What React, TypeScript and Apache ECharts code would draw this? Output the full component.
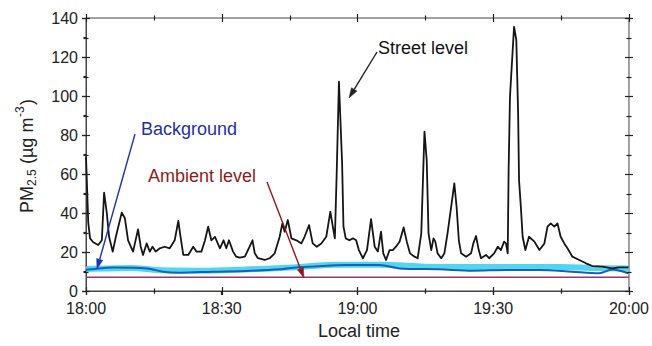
import React, { useEffect, useRef } from "react";
import * as echarts from "echarts";

// time in minutes after 18:00, PM2.5 value (µg m-3)
const streetLevel: [number, number][] = [
  [0, 68.9], [0.5, 35], [0.9, 27], [1.6, 25], [2.7, 23.6], [3.5, 26], [4.0, 50.4], [4.6, 40],
  [5.1, 27.8], [5.9, 20.2], [6.6, 27.8], [7.9, 40.2], [8.6, 37.3], [9.3, 26], [10.4, 20.2],
  [11.5, 31.6], [12.1, 22.7], [12.6, 18.5], [13.4, 24.4], [14.1, 20.2], [14.7, 22.7], [15.4, 20.2],
  [16.3, 21.9], [17.4, 22.7], [18.5, 21.9], [19.6, 26], [20.4, 35.9], [20.9, 27.8], [21.5, 18.5],
  [22.6, 18.5], [23.7, 22.7], [24.4, 20.2], [25.5, 20.2], [26.3, 26], [27.0, 33], [27.7, 26],
  [28.5, 27.8], [29.6, 21.9], [30.4, 26], [31.0, 21.9], [31.6, 26], [32.5, 20.2], [33.2, 17.6],
  [34.0, 17.1], [35.1, 17.6], [35.8, 21], [36.8, 26], [37.3, 19.3], [38.0, 16.8], [39.5, 15.9],
  [40.6, 16.8], [41.7, 19.3], [42.8, 27.8], [43.4, 34.7], [43.9, 30.4], [44.6, 36.4], [45.4, 27],
  [46.5, 26], [47.6, 24.4], [48.3, 27.8], [49.3, 33.8], [50.1, 24.4], [51.0, 22.7], [52.0, 24.4],
  [53.1, 27.8], [54.0, 40.7], [54.6, 32.3], [55.0, 27], [55.4, 60], [55.9, 107.3], [56.6, 65.6],
  [56.9, 33], [57.4, 27], [58.2, 26], [59.0, 27], [59.7, 26], [60.3, 21], [61.2, 16.8],
  [62.1, 21], [63.0, 36.8], [63.8, 22.7], [64.5, 20.2], [65.2, 30.4], [65.7, 19.3], [66.3, 15.9],
  [67.1, 21], [67.8, 21], [68.5, 22.7], [69.3, 25.3], [70.2, 32.6], [70.9, 25.3], [71.6, 19.3],
  [72.6, 17.6], [73.3, 16.8], [74.1, 29.6], [74.8, 81.7], [75.3, 67], [75.7, 29.6], [76.3, 21],
  [76.8, 27], [77.2, 25.3], [77.7, 19.3], [78.5, 16.8], [79.2, 19.3], [79.9, 29.6], [80.7, 43.2],
  [81.4, 55.2], [81.9, 43.2], [82.4, 26], [82.9, 19.3], [84.0, 17.6], [85.1, 19.3], [85.6, 24.4],
  [86.2, 28.2], [86.8, 21], [87.3, 16.8], [88.4, 18.5], [89.1, 16.8], [90.2, 19.3], [91.0, 22.7],
  [91.7, 21], [92.4, 25.3], [92.8, 24.4], [93.2, 19.3], [93.4, 62], [93.7, 99.6], [94.6, 135.5],
  [95.1, 128.7], [95.5, 91.1], [95.7, 56.9], [96.1, 43.2], [96.5, 27.8], [97.1, 21], [97.9, 27.8],
  [99.1, 25.3], [100.2, 21], [101.3, 24.4], [102.0, 33], [102.7, 34.7], [103.5, 33], [104.2, 34.7],
  [104.9, 27.8], [105.7, 24.4], [106.4, 21.9], [107.5, 17.6], [109.0, 15.9], [110.5, 14.2],
  [111.9, 12.8], [114.1, 12.5], [116.3, 11.6], [117.8, 12.1], [119.9, 12.1],
];

const backgroundLevel: [number, number][] = [
  [0, 10.8], [0.9, 11.1], [6, 12.1], [13.5, 11.6], [17, 9.9], [20.7, 9.4], [28, 9.9],
  [35.5, 10.3], [42.8, 11.1], [46.5, 12.1], [50, 12.5], [57.6, 13.3], [64.9, 13.3],
  [69.3, 11.6], [78.1, 11.1], [85.4, 10.4], [92.9, 10.8], [100.2, 10.8], [107.4, 9.9],
  [113.4, 9.1], [116.3, 11], [119.8, 9.1],
];

const backgroundBand: [number, number][] = [
  [0, 11.3], [10, 11.8], [17, 10.6], [25, 10.4], [35, 11], [45, 12], [55, 13.4], [65, 13.4],
  [75, 12.5], [85, 12.3], [95, 12.3], [105, 12.3], [112, 11.8], [120, 11.5],
];

const ambientLevel: [number, number][] = [
  [0, 7.0], [120, 7.0],
];

const xTickLabels: Record<number, string> = {
  0: "18:00", 30: "18:30", 60: "19:00", 90: "19:30", 120: "20:00",
};
const xMajorTicks = [0, 30, 60, 90, 120];
const xMinorTicks = [15, 45, 75, 105];
const yMajorTicks = [0, 20, 40, 60, 80, 100, 120, 140];
const yMinorTicks = [10, 30, 50, 70, 90, 110, 130];

const X_MIN = 0, X_MAX = 120, Y_MIN = 0, Y_MAX = 140;
const AXIS_COLOR = "#444";
const TEXT_COLOR = "#222";
const FONT = "Arial, 'Liberation Sans', sans-serif";

function arrow(x1: number, y1: number, x2: number, y2: number, color: string, len = 10, half = 3.2) {
  const dx = x2 - x1, dy = y2 - y1;
  const d = Math.sqrt(dx * dx + dy * dy);
  const ux = dx / d, uy = dy / d;
  const bx = x2 - ux * len, by = y2 - uy * len;
  const px = -uy, py = ux;
  return [
    { type: "line", shape: { x1, y1, x2: bx, y2: by }, style: { stroke: color, lineWidth: 1.4 }, z: 100 },
    {
      type: "polygon",
      shape: { points: [[x2, y2], [bx + px * half, by + py * half], [bx - px * half, by - py * half]] },
      style: { fill: color, stroke: color, lineWidth: 0.5 },
      z: 100,
    },
  ];
}

export default function App() {
  const ref = useRef<HTMLDivElement>(null);
  useEffect(() => {
    if (!ref.current) return;
    const chart = echarts.init(ref.current, null, { renderer: "svg" });

    const annotations: any[] = [
      {
        type: "text", left: 318, top: 322,
        style: { text: "Local time", fontSize: 18, fill: TEXT_COLOR, fontFamily: FONT },
      },
      {
        type: "group", x: 27, y: 213, rotation: Math.PI / 2,
        children: [
          { type: "text", x: 0, y: 0, style: { text: "PM", fontSize: 18, fill: TEXT_COLOR, fontFamily: FONT, verticalAlign: "middle" } },
          { type: "text", x: 27, y: 5, style: { text: "2.5", fontSize: 12, fill: TEXT_COLOR, fontFamily: FONT, verticalAlign: "middle" } },
          { type: "text", x: 44, y: 0, style: { text: " (µg m", fontSize: 18, fill: TEXT_COLOR, fontFamily: FONT, verticalAlign: "middle" } },
          { type: "text", x: 96, y: -7, style: { text: "-3", fontSize: 12, fill: TEXT_COLOR, fontFamily: FONT, verticalAlign: "middle" } },
          { type: "text", x: 108, y: 0, style: { text: ")", fontSize: 18, fill: TEXT_COLOR, fontFamily: FONT, verticalAlign: "middle" } },
        ],
      },
      {
        type: "text", x: 378, y: 48,
        style: { text: "Street level", fontSize: 18, fill: "#111", fontFamily: FONT, verticalAlign: "middle" },
        z: 100,
      },
      {
        type: "text", x: 141, y: 129,
        style: { text: "Background", fontSize: 18, fill: "#1f2fa6", fontFamily: FONT, verticalAlign: "middle" },
        z: 100,
      },
      {
        type: "text", x: 148, y: 176,
        style: { text: "Ambient level", fontSize: 18, fill: "#8c1c1c", fontFamily: FONT, verticalAlign: "middle" },
        z: 100,
      },
      ...arrow(377, 52, 349, 98, "#222"),
      ...arrow(135, 134, 97, 269, "#1f34b0"),
      ...arrow(267, 182, 304, 278, "#8c1c1c"),
    ];

    // tick data: [x, y, half-length]
    const xTickData = [...xMajorTicks.map((v) => [v, Y_MIN, 4]), ...xMinorTicks.map((v) => [v, Y_MIN, 2.5])];
    const yTickData = [...yMajorTicks.map((v) => [X_MIN, v, 4]), ...yMinorTicks.map((v) => [X_MIN, v, 2.5])];
    const tickStyle = { stroke: "#222", lineWidth: 1.2 };

    chart.setOption({
      animation: false,
      backgroundColor: "#fff",
      grid: {
        left: 86, right: 22, top: 18, bottom: 55, containLabel: false,
        show: true, borderColor: AXIS_COLOR, borderWidth: 1, backgroundColor: "transparent",
      },
      xAxis: {
        type: "value", min: X_MIN, max: X_MAX, interval: 30, position: "bottom",
        axisLine: { show: true, onZero: false, lineStyle: { color: AXIS_COLOR, width: 1 } },
        axisTick: { show: true, length: 4, lineStyle: { color: "#222", width: 1.2 } },
        minorTick: { show: true, splitNumber: 2, length: 2.5, lineStyle: { color: "#222", width: 1.2 } },
        splitLine: { show: false },
        axisLabel: {
          show: true, margin: 9, fontSize: 16, color: TEXT_COLOR, fontFamily: FONT,
          formatter: (v: number) => xTickLabels[v] ?? "",
        },
      },
      yAxis: {
        type: "value", min: Y_MIN, max: Y_MAX, interval: 20, position: "left",
        axisLine: { show: true, onZero: false, lineStyle: { color: AXIS_COLOR, width: 1 } },
        axisTick: { show: true, length: 4, lineStyle: { color: "#222", width: 1.2 } },
        minorTick: { show: true, splitNumber: 2, length: 2.5, lineStyle: { color: "#222", width: 1.2 } },
        splitLine: { show: false },
        axisLabel: { show: true, margin: 8, fontSize: 16, color: TEXT_COLOR, fontFamily: FONT },
      },
      series: [
        {
          type: "line", data: ambientLevel, showSymbol: false, symbol: "none",
          lineStyle: { color: "#94386e", width: 1.5 }, z: 2,
        },
        {
          type: "line", data: backgroundBand, showSymbol: false, symbol: "none", smooth: 0.3,
          lineStyle: { color: "#3fd2ee", width: 6, opacity: 0.9 }, z: 3,
        },
        {
          type: "line", data: backgroundLevel, showSymbol: false, symbol: "none", smooth: 0.3,
          lineStyle: { color: "#1560b8", width: 2 }, z: 4,
        },
        {
          type: "line", data: streetLevel, showSymbol: false, symbol: "none",
          lineStyle: { color: "#151515", width: 1.8, join: "round" }, z: 5,
        },
        {
          type: "custom", data: xTickData, clip: false, silent: true, z: 10,
          encode: { x: 0, y: 1 },
          renderItem: (_p: any, api: any) => {
            const v = api.value(0), h = api.value(2);
            const b = api.coord([v, Y_MIN]);
            const t = api.coord([v, Y_MAX]);
            const x = Math.round(b[0]) + 0.5;
            return {
              type: "group",
              children: [
                { type: "line", shape: { x1: x, y1: b[1] - h, x2: x, y2: b[1] + h }, style: tickStyle },
                { type: "line", shape: { x1: x, y1: t[1] - h, x2: x, y2: t[1] + h }, style: tickStyle },
              ],
            };
          },
        },
        {
          type: "custom", data: yTickData, clip: false, silent: true, z: 10,
          encode: { x: 0, y: 1 },
          renderItem: (_p: any, api: any) => {
            const v = api.value(1), w = api.value(2);
            const l = api.coord([X_MIN, v]);
            const r = api.coord([X_MAX, v]);
            const y = Math.round(l[1]) + 0.5;
            return {
              type: "group",
              children: [
                { type: "line", shape: { x1: l[0] - w, y1: y, x2: l[0] + w, y2: y }, style: tickStyle },
                { type: "line", shape: { x1: r[0] - w, y1: y, x2: r[0] + w, y2: y }, style: tickStyle },
              ],
            };
          },
        },
      ],
      graphic: annotations,
    });
    return () => chart.dispose();
  }, []);
  return <div ref={ref} style={{ width: 652, height: 346, position: "absolute", left: 0, top: 0 }} />;
}
